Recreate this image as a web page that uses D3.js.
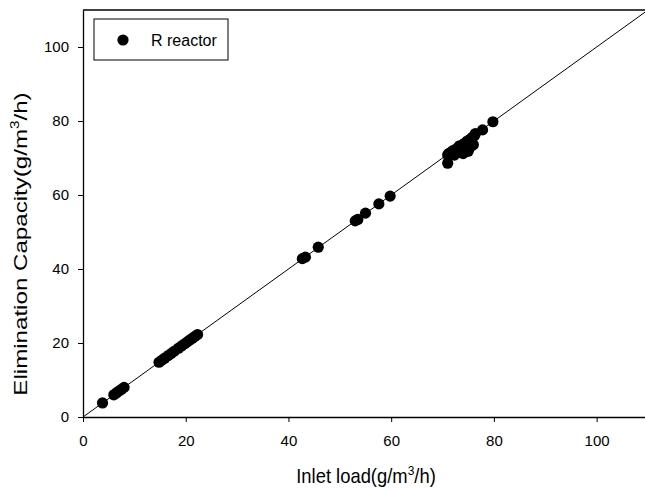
<!DOCTYPE html>
<html>
<head>
<meta charset="utf-8">
<script src="https://cdn.jsdelivr.net/npm/d3@7"></script>
<style>
  body { margin: 0; background: #fff; }
  svg { font-family: Arial, "Liberation Sans", sans-serif; }
</style>
</head>
<body>
<svg width="645" height="490"></svg>
<script>
var svg = d3.select('svg');

// data
var inletLoad = [3.8, 6.0, 6.5, 7.0, 7.5, 8.0,
  14.8, 15.3, 15.9, 16.6, 17.2, 17.8, 18.6, 19.2, 19.8, 20.3, 20.8, 21.3, 21.8, 22.3,
  42.7, 43.3, 45.8, 53.0, 53.5, 55.0, 57.6, 59.8,
  71.0, 71.0, 71.2, 71.6, 72.0, 72.3, 72.8, 73.0, 73.3, 73.6, 74.0, 74.2, 74.5, 74.8,
  75.0, 75.3, 75.6, 75.8, 76.0, 76.2, 76.4, 77.8, 79.8];
var elimCapacity = [3.8, 6.0, 6.5, 7.0, 7.5, 8.0,
  14.8, 15.3, 15.9, 16.6, 17.2, 17.8, 18.6, 19.2, 19.8, 20.3, 20.8, 21.3, 21.8, 22.3,
  42.8, 43.2, 45.9, 53.0, 53.4, 55.1, 57.6, 59.7,
  68.6, 70.8, 71.2, 71.5, 72.0, 70.8, 72.6, 71.6, 73.3, 72.2, 71.2, 73.9, 72.6, 74.6,
  71.8, 75.0, 73.2, 75.6, 73.6, 76.0, 76.6, 77.6, 79.8];
var xTicks = [0, 20, 40, 60, 80, 100];
var yTicks = [0, 20, 40, 60, 80, 100];

var x = d3.scaleLinear().domain([0, 110]).range([83, 648]);
var y = d3.scaleLinear().domain([0, 110]).range([417, 10]);

// top frame line
svg.append('line').attr('x1', x(0)).attr('x2', x(110)).attr('y1', y(110)).attr('y2', y(110))
  .attr('stroke', '#000').attr('stroke-width', 1.3);

var xAxis = svg.append('g').attr('transform', 'translate(0,' + y(0) + ')')
  .call(d3.axisBottom(x).tickValues(xTicks).tickSize(5).tickPadding(13).tickSizeOuter(0));
var yAxis = svg.append('g').attr('transform', 'translate(' + x(0) + ',0)')
  .call(d3.axisLeft(y).tickValues(yTicks).tickSize(5).tickPadding(9).tickSizeOuter(0));
[xAxis, yAxis].forEach(function (a) {
  a.selectAll('text').attr('font-size', 15).attr('font-family', 'Arial, "Liberation Sans", sans-serif').attr('fill', '#000');
  a.select('.domain').attr('stroke-width', 1.3);
});

// 1:1 line
svg.append('line')
  .attr('x1', x(0)).attr('y1', y(0)).attr('x2', x(110)).attr('y2', y(110))
  .attr('stroke', '#000').attr('stroke-width', 1);

var pts = inletLoad.map(function (d, i) { return {x: d, y: elimCapacity[i]}; });
svg.selectAll('circle.pt')
  .data(pts)
  .enter()
  .append('circle')
  .attr('class', 'pt')
  .attr('cx', function (d) { return x(d.x); })
  .attr('cy', function (d) { return y(d.y); })
  .attr('r', 5.6)
  .attr('fill', '#000');

// legend
svg.append('rect').attr('x', 94).attr('y', 19).attr('width', 134).attr('height', 41)
  .attr('fill', '#fff').attr('stroke', '#000').attr('stroke-width', 1);
svg.append('circle').attr('cx', 123).attr('cy', 40).attr('r', 5.6).attr('fill', '#000');
svg.append('text').attr('x', 151).attr('y', 46).attr('font-size', 16).text('R reactor');

// axis titles
var xt = svg.append('text').attr('transform', 'translate(366,483) scale(0.92,1)')
  .attr('text-anchor', 'middle').attr('font-size', 20);
xt.append('tspan').text('Inlet load(g/m');
xt.append('tspan').attr('font-size', 13).attr('dy', -8).text('3');
xt.append('tspan').attr('dy', 8).text('/h)');

var yt = svg.append('text').attr('transform', 'translate(27,244) rotate(-90) scale(1.27,1)')
  .attr('text-anchor', 'middle').attr('font-size', 19);
yt.append('tspan').text('Elimination Capacity(g/m');
yt.append('tspan').attr('font-size', 12).attr('dy', -8).text('3');
yt.append('tspan').attr('dy', 8).text('/h)');
</script>
</body>
</html>
